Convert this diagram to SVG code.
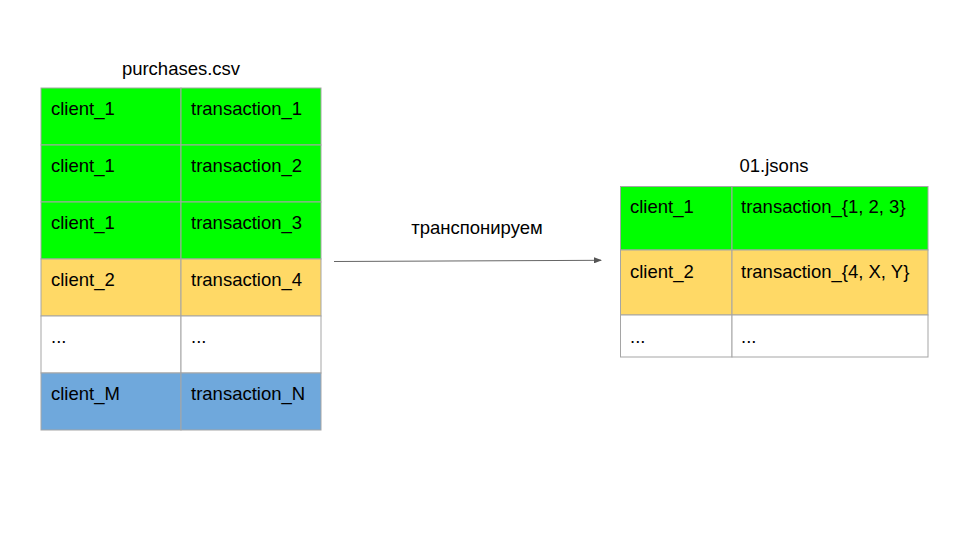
<svg xmlns="http://www.w3.org/2000/svg" width="960" height="540" viewBox="0 0 960 540">
<defs>
<style>
text{font-family:"Liberation Sans",Arial,sans-serif;font-size:18.5px;fill:#000}
.t{text-anchor:middle}
.c{stroke:#a5a5a5;stroke-width:1}
.g{fill:#00ff00}
.o{fill:#ffd966}
.w{fill:#ffffff}
.b{fill:#6fa8dc}
</style>
<marker id="ah" markerWidth="8" markerHeight="6" refX="7" refY="3" orient="auto" markerUnits="userSpaceOnUse">
<path d="M0,0 L8,3 L0,6 Z" fill="#555"/>
</marker>
</defs>
<rect width="960" height="540" fill="#fff"/>
<g id="purchases">
<text class="t" x="181" y="75">purchases.csv</text>
<g id="row1"><rect class="g c" x="41" y="88" width="140" height="57"/><rect class="g c" x="181" y="88" width="140" height="57"/><text x="51" y="115">client_1</text><text x="191" y="115">transaction_1</text></g>
<g id="row2"><rect class="g c" x="41" y="145" width="140" height="57"/><rect class="g c" x="181" y="145" width="140" height="57"/><text x="51" y="172">client_1</text><text x="191" y="172">transaction_2</text></g>
<g id="row3"><rect class="g c" x="41" y="202" width="140" height="57"/><rect class="g c" x="181" y="202" width="140" height="57"/><text x="51" y="229">client_1</text><text x="191" y="229">transaction_3</text></g>
<g id="row4"><rect class="o c" x="41" y="259" width="140" height="57"/><rect class="o c" x="181" y="259" width="140" height="57"/><text x="51" y="286">client_2</text><text x="191" y="286">transaction_4</text></g>
<g id="row5"><rect class="w c" x="41" y="316" width="140" height="57"/><rect class="w c" x="181" y="316" width="140" height="57"/><text x="51" y="343">...</text><text x="191" y="343">...</text></g>
<g id="row6"><rect class="b c" x="41" y="373" width="140" height="57"/><rect class="b c" x="181" y="373" width="140" height="57"/><text x="51" y="400">client_M</text><text x="191" y="400">transaction_N</text></g>
</g>
<g id="jsons">
<text class="t" x="774" y="172">01.jsons</text>
<g id="jrow1"><rect class="g c" x="620.5" y="186.5" width="111.5" height="63.5"/><rect class="g c" x="732" y="186.5" width="196" height="63.5"/><text x="630" y="213">client_1</text><text x="741" y="213">transaction_{1, 2, 3}</text></g>
<g id="jrow2"><rect class="o c" x="620.5" y="250" width="111.5" height="65"/><rect class="o c" x="732" y="250" width="196" height="65"/><text x="630" y="278">client_2</text><text x="741" y="278">transaction_{4, X, Y}</text></g>
<g id="jrow3"><rect class="w c" x="620.5" y="315" width="111.5" height="42"/><rect class="w c" x="732" y="315" width="196" height="42"/><text x="630" y="343">...</text><text x="741" y="343">...</text></g>
</g>
<g id="connectors">
<line x1="334" y1="261.5" x2="601" y2="260.3" stroke="#666" stroke-width="1" marker-end="url(#ah)"/>
<text class="t" x="477" y="234">транспонируем</text>
</g>
</svg>
